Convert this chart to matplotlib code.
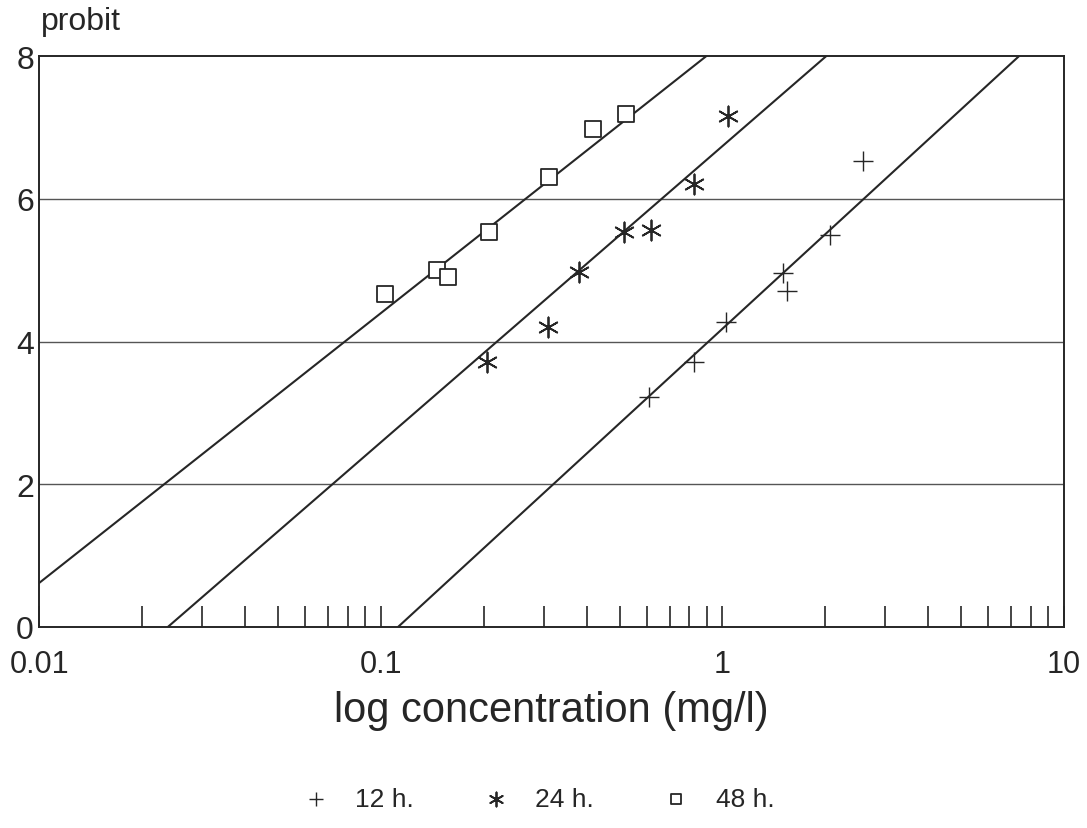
#!/usr/bin/env python3
"""
Probit vs log concentration plot for 12 h, 24 h and 48 h exposures.

Usage:
    python plot.py
"""

import matplotlib

matplotlib.use("Agg")
import matplotlib.pyplot as plt
import numpy as np
from matplotlib.ticker import FixedLocator, NullFormatter

# Observed points (concentration mg/l, probit)
conc_12h = [0.609, 0.825, 1.024, 1.505, 1.546, 2.07, 2.58]
probit_12h = [3.22, 3.71, 4.28, 4.96, 4.71, 5.50, 6.53]

conc_24h = [0.205, 0.308, 0.379, 0.514, 0.617, 0.825, 1.038]
probit_24h = [3.72, 4.20, 4.98, 5.53, 5.57, 6.21, 7.16]

conc_48h = [0.103, 0.146, 0.157, 0.207, 0.310, 0.417, 0.521]
probit_48h = [4.66, 5.01, 4.90, 5.53, 6.30, 6.98, 7.19]

# Fitted regression lines: probit = intercept + slope * log10(conc)
labels = ["12 h.", "24 h.", "48 h."]
intercepts = [4.18, 6.74, 8.18]
slopes = [4.40, 4.15, 3.78]

x_ticks = [0.01, 0.1, 1, 10]
x_ticklabels = ["0.01", "0.1", "1", "10"]
y_ticks = [0, 2, 4, 6, 8]

FONT = ["Liberation Sans", "DejaVu Sans"]
INK = "#262626"


def fitted_line(intercept, slope):
    x = np.logspace(-2, 1, 200)
    return x, intercept + slope * np.log10(x)


def main():
    plt.rcParams["font.family"] = FONT
    fig = plt.figure(figsize=(10.87, 8.29), dpi=100)
    ax = fig.add_axes([0.0363, 0.2425, 0.9425, 0.6885])

    ax.set_xscale("log")
    ax.set_xlim(0.01, 10)
    ax.set_ylim(0, 8)

    # horizontal grid
    for y in y_ticks[1:-1]:
        ax.axhline(y, color="#555555", lw=1.0, zorder=1)

    # regression lines
    for b0, b1 in zip(intercepts, slopes):
        x, y = fitted_line(b0, b1)
        ax.plot(x, y, color=INK, lw=1.5, zorder=2)

    h12 = ax.scatter(conc_12h, probit_12h, marker="+", s=200, c=INK,
                     linewidths=1.0, zorder=3)
    h24 = ax.scatter(conc_24h, probit_24h, marker=(6, 2, 0), s=210, c=INK,
                     linewidths=1.3, zorder=3)
    h48 = ax.scatter(conc_48h, probit_48h, marker="s", s=125,
                     facecolors="white", edgecolors=INK, linewidths=1.3, zorder=3)

    for side in ax.spines.values():
        side.set_color(INK)
        side.set_linewidth(1.4)

    # x ticks: point inward, minor ticks for 2..9 of every decade
    ax.xaxis.set_major_locator(FixedLocator(x_ticks))
    ax.set_xticklabels(x_ticklabels)
    minors = [m * 10.0 ** d for d in (-2, -1, 0) for m in range(2, 10)]
    ax.xaxis.set_minor_locator(FixedLocator(minors))
    ax.xaxis.set_minor_formatter(NullFormatter())
    ax.tick_params(axis="x", which="both", direction="in", length=15,
                   width=1.2, color=INK, pad=16, labelsize=22, labelcolor=INK)

    ax.set_yticks(y_ticks)
    ax.tick_params(axis="y", length=0, pad=4, labelsize=23, labelcolor=INK)

    ax.set_xlabel("log concentration (mg/l)", fontsize=30, color=INK, labelpad=8)
    fig.text(0.038, 0.973, "probit", fontsize=23, color=INK, va="center", ha="left")

    fig.legend([h12, h24, h48], labels, loc="center", ncol=3,
               bbox_to_anchor=(0.494, 0.035), frameon=False, fontsize=19,
               markerscale=0.7, handlelength=1.2, handletextpad=0.9,
               columnspacing=2.5, labelcolor=INK)

    fig.savefig("out.png", dpi=100)
    plt.close(fig)


if __name__ == "__main__":
    main()
